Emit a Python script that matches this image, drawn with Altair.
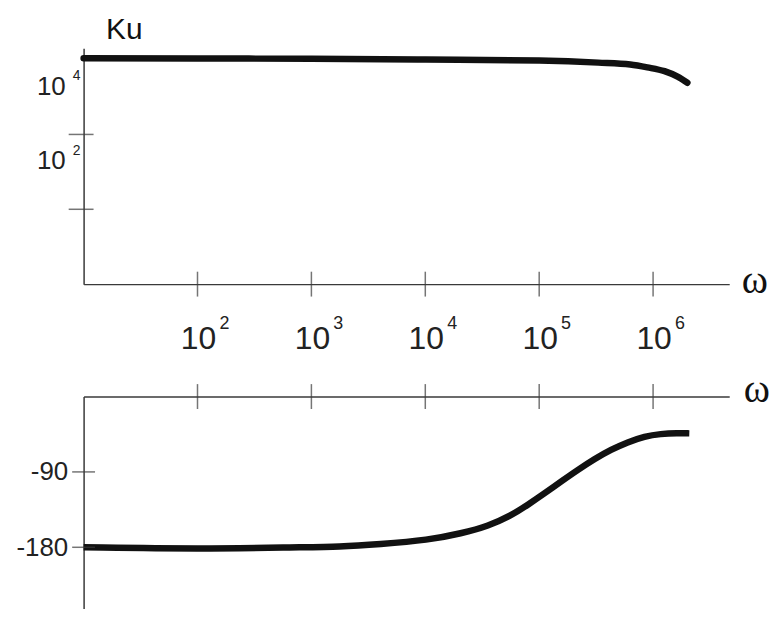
import altair as alt
import pandas as pd

# ---- data ----
# magnitude response |Ku| vs omega
omega_mag = [1e1, 1e2, 1e3, 1e4, 1e5, 3.3e5, 6.3e5, 8.9e5, 1.26e6, 1.64e6, 2.0e6]
ku_mag = [1.08e6, 1.07e6, 1.05e6, 1.0e6, 9.4e5, 8.3e5, 7.4e5, 6.2e5, 4.9e5, 3.5e5, 2.4e5]

# phase response (degrees) vs omega
omega_phase = [1e1, 1.05e2, 7.85e2, 1.76e3, 3.93e3, 1.07e4, 2.08e4, 3.59e4, 5.69e4,
               8.01e4, 1.13e5, 1.56e5, 2.19e5, 3.09e5, 4.26e5, 5.99e5, 8.43e5,
               1.16e6, 1.64e6, 2.08e6]
phase_deg = [-180, -182, -180, -179.5, -176.4, -171.3, -163.4, -154.5, -142,
             -129, -115, -101.5, -87.5, -74.3, -63.5, -54.5, -47.5,
             -44.5, -43.6, -44.0]

# axis ticks / labels
x_ticks = [1e2, 1e3, 1e4, 1e5, 1e6]
x_exps = ["2", "3", "4", "5", "6"]
ku_ticks = [1e4, 1e2]
ku_exps = ["4", "2"]
phase_ticks = [-90, -180]

# ---- layout constants ----
W = 649
H_TOP = 237
H_BOT = 213
AX = "#3a3a3a"
INK = "#111111"
TXT = "#222222"
SANS = "Liberation Sans"
SERIF = "Liberation Serif"

xs = alt.Scale(type="log", domain=[10, 4.66e6], nice=False)
ys_top = alt.Scale(type="log", domain=[1, 1995262], nice=False)
ys_bot = alt.Scale(domain=[-253, 0], nice=False)

ax_x_top = alt.Axis(
    orient="bottom", ticks=False, labels=False, grid=False, domain=True,
    domainColor=AX, domainWidth=1.5,
    title="ω", titleFont=SERIF, titleFontSize=40, titleFontWeight="normal",
    titleColor=INK, titleX=661, titleY=8, titleAlign="left",
    titleBaseline="alphabetic", titleAngle=0)
ax_y_top = alt.Axis(
    orient="left", ticks=False, labels=False, grid=False, domain=True,
    domainColor=AX, domainWidth=1.5,
    title="Ku", titleFont=SANS, titleFontSize=30, titleFontWeight="normal",
    titleColor=INK, titleX=22, titleY=-10, titleAlign="left",
    titleBaseline="alphabetic", titleAngle=0)
ax_x_bot = alt.Axis(
    orient="top", ticks=False, labels=False, grid=False, domain=True,
    domainColor=AX, domainWidth=1.5,
    title="ω", titleFont=SERIF, titleFontSize=40, titleFontWeight="normal",
    titleColor=INK, titleX=663, titleY=5, titleAlign="left",
    titleBaseline="alphabetic", titleAngle=0)
ax_y_bot = alt.Axis(
    orient="left", values=phase_ticks, ticks=False, grid=False, domain=True,
    domainColor=AX, domainWidth=1.5,
    labelExpr="'' + datum.value",
    labelFont=SANS, labelFontSize=26, labelColor=TXT,
    labelPadding=16, title=None)

mag_df = pd.DataFrame({"omega": omega_mag, "ku": ku_mag})
ph_df = pd.DataFrame({"omega": omega_phase, "phase": phase_deg})
xt_df = pd.DataFrame({"t": x_ticks, "e": x_exps})
kt_df = pd.DataFrame({"t": ku_ticks, "e": ku_exps})
pt_df = pd.DataFrame({"t": phase_ticks})

# ---------- top panel ----------
mag_line = alt.Chart(mag_df).mark_line(
    color=INK, strokeWidth=6.5, strokeCap="round", interpolate="monotone"
).encode(
    x=alt.X("omega:Q", scale=xs, axis=ax_x_top),
    y=alt.Y("ku:Q", scale=ys_top, axis=ax_y_top),
)

top_xticks = alt.Chart(xt_df).mark_tick(
    orient="vertical", size=25, thickness=1.5, color=AX
).encode(x=alt.X("t:Q", scale=xs, axis=ax_x_top), y=alt.value(H_TOP))

top_yticks = alt.Chart(kt_df).mark_tick(
    orient="horizontal", size=25, thickness=1.5, color=AX
).encode(y=alt.Y("t:Q", scale=ys_top, axis=ax_y_top), x=alt.value(-2.5))

x_base = alt.Chart(xt_df).mark_text(
    text="10", font=SANS, fontSize=32, align="center", baseline="middle",
    dx=1, color=TXT
).encode(x=alt.X("t:Q", scale=xs, axis=ax_x_top), y=alt.value(H_TOP + 55))

x_exp = alt.Chart(xt_df).mark_text(
    font=SANS, fontSize=18, align="left", baseline="middle",
    dx=22, dy=-15, color=TXT
).encode(x=alt.X("t:Q", scale=xs, axis=ax_x_top), y=alt.value(H_TOP + 55),
         text="e:N")

y_base = alt.Chart(kt_df).mark_text(
    text="10", font=SANS, fontSize=26, align="right", baseline="middle",
    dy=-48, color=TXT
).encode(y=alt.Y("t:Q", scale=ys_top, axis=ax_y_top), x=alt.value(-18))

y_exp = alt.Chart(kt_df).mark_text(
    font=SANS, fontSize=14, align="left", baseline="middle",
    dy=-59, color=TXT
).encode(y=alt.Y("t:Q", scale=ys_top, axis=ax_y_top), x=alt.value(-11),
         text="e:N")

top = alt.layer(mag_line, top_xticks, top_yticks, x_base, x_exp, y_base, y_exp).properties(
    width=W, height=H_TOP)

# ---------- bottom panel ----------
ph_line = alt.Chart(ph_df).mark_line(
    color=INK, strokeWidth=6.5, strokeCap="butt", interpolate="basis"
).encode(
    x=alt.X("omega:Q", scale=xs, axis=ax_x_bot),
    y=alt.Y("phase:Q", scale=ys_bot, axis=ax_y_bot),
)

bot_xticks = alt.Chart(xt_df).mark_tick(
    orient="vertical", size=25, thickness=1.5, color=AX
).encode(x=alt.X("t:Q", scale=xs, axis=ax_x_bot), y=alt.value(0))

bot_yticks = alt.Chart(pt_df).mark_tick(
    orient="horizontal", size=23, thickness=1.5, color=AX
).encode(y=alt.Y("t:Q", scale=ys_bot, axis=ax_y_bot), x=alt.value(0))

bottom = alt.layer(ph_line, bot_xticks, bot_yticks).properties(width=W, height=H_BOT)

chart = alt.vconcat(top, bottom, spacing=113, bounds="flush").properties(
    padding={"left": 7, "top": 5, "right": 0, "bottom": 0}
).configure_view(stroke=None)

chart.save("out.html", embed_options={"renderer": "svg", "actions": False})
